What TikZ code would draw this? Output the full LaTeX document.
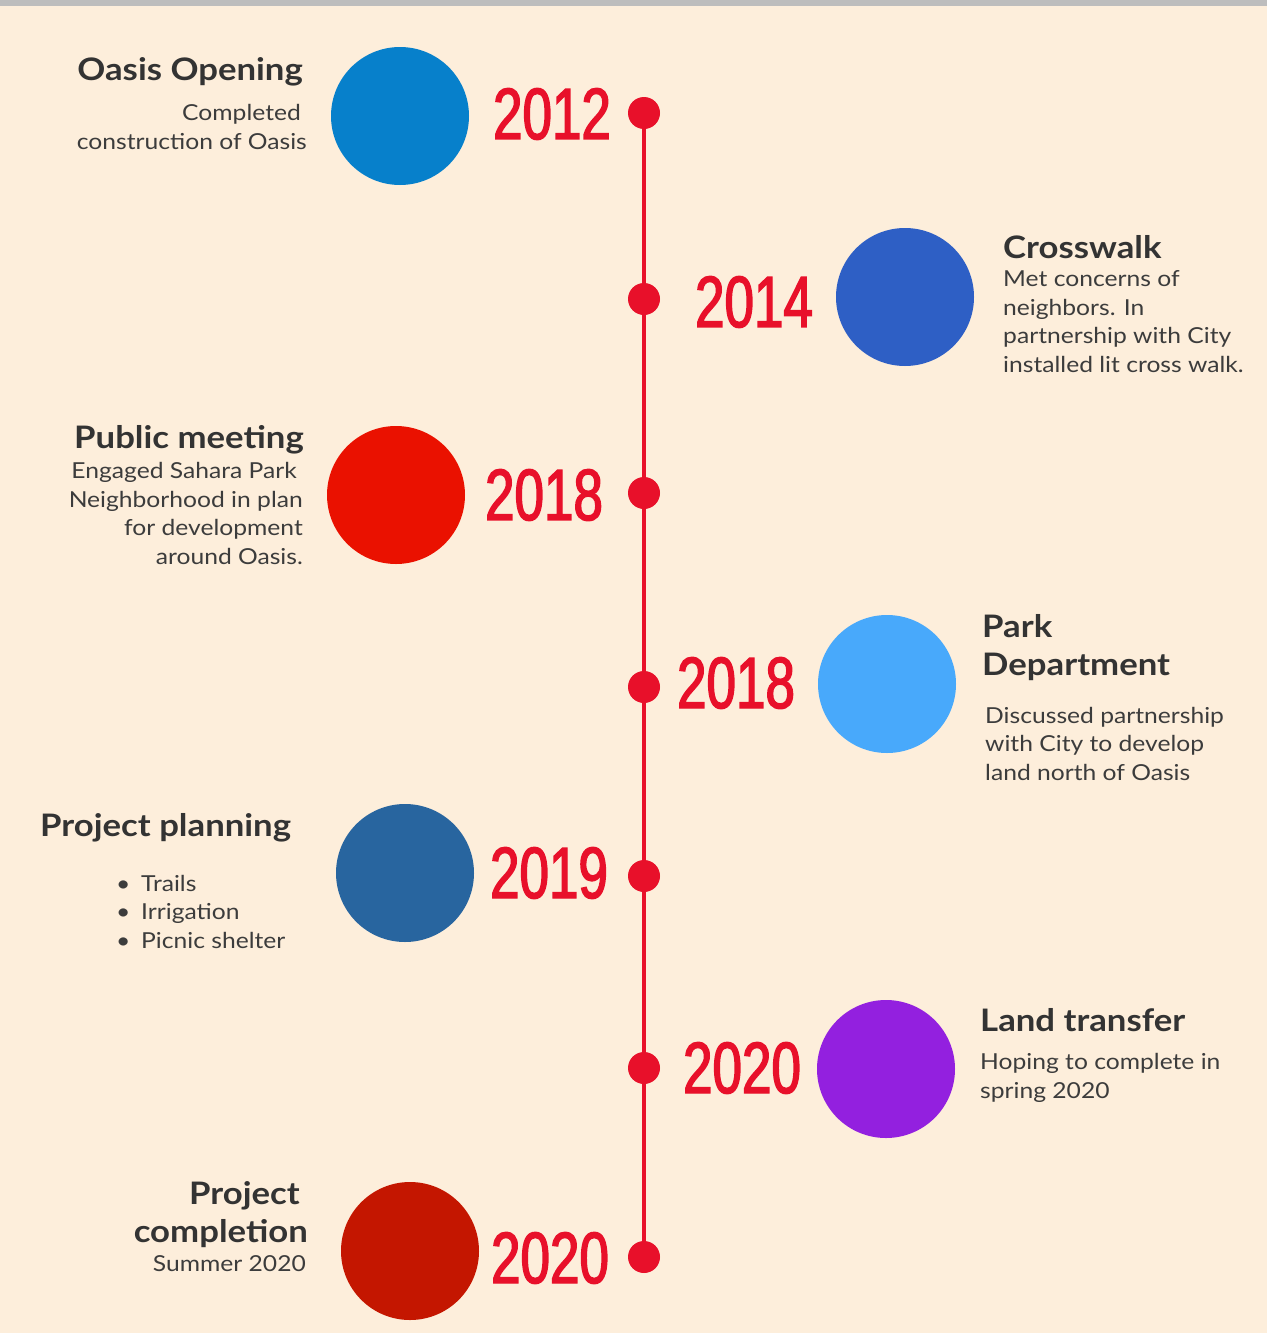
\documentclass[tikz,border=0pt]{standalone}
\usepackage{fontspec}
\usepackage{xcolor}
\usepackage{tikz}
\setmainfont[FakeStretch=1.12]{Lato}
\newfontfamily\yearfont[FakeStretch=0.73,FakeBold=2]{Liberation Sans}

\definecolor{bgCream}{HTML}{FDEEDB}
\definecolor{barGrey}{HTML}{BDBDBD}
\definecolor{lineRed}{HTML}{E8102A}
\definecolor{txtDark}{HTML}{333333}
\definecolor{txtBody}{HTML}{3C3C3C}
\definecolor{evBlue}{HTML}{0780CB}
\definecolor{evRoyal}{HTML}{2E5FC5}
\definecolor{evRed}{HTML}{EA1100}
\definecolor{evSky}{HTML}{48A9FB}
\definecolor{evSteel}{HTML}{28659F}
\definecolor{evViolet}{HTML}{9320DF}
\definecolor{evBrick}{HTML}{C41600}

\tikzset{
  event/.style={circle,fill=#1,minimum size=138,inner sep=0},
  tdot/.style={circle,fill=lineRed,minimum size=32,inner sep=0},
  year/.style={inner sep=0,text=lineRed,font=\yearfont\fontsize{72.6}{72.6}\selectfont},
  head/.style={inner sep=0,text=txtDark,font=\bfseries\fontsize{31}{38}\selectfont},
  body/.style={inner sep=0,text=txtBody,font=\fontsize{22}{28.5}\selectfont}
}

\begin{document}
\begin{tikzpicture}[x=1pt,y=1pt,yscale=-1,xscale=1]
\useasboundingbox (0,0) rectangle (1267,1333);
\fill [bgCream] (0,0) rectangle (1267,1333);
\fill [barGrey] (0,0) rectangle (1267,6);

% timeline
\draw (644,113) node (d12) [tdot] {};
\draw (644,299) node (d14) [tdot] {};
\draw (644,493) node (d18a) [tdot] {};
\draw (644,687) node (d18b) [tdot] {};
\draw (644,876) node (d19) [tdot] {};
\draw (644,1068) node (d20a) [tdot] {};
\draw (644,1257) node (d20b) [tdot] {};
\draw [lineRed,line width=4] (d12.center) -- (d20b.center);

% circles
\draw (400,116) node (c12) [event=evBlue] {};
\draw (905,297) node (c14) [event=evRoyal] {};
\draw (396,495) node (c18a) [event=evRed] {};
\draw (887,684) node (c18b) [event=evSky] {};
\draw (405,873) node (c19) [event=evSteel] {};
\draw (886,1069) node (c20a) [event=evViolet] {};
\draw (410,1251) node (c20b) [event=evBrick] {};

% years
\draw (552,114) node (y12) [year] {2012};
\draw (754,302) node (y14) [year] {2014};
\draw (544,495) node (y18a) [year] {2018};
\draw (736,683) node (y18b) [year] {2018};
\draw (549,873) node (y19) [year] {2019};
\draw (742,1068) node (y20a) [year] {2020};
\draw (550,1258) node (y20b) [year] {2020};

% left texts (base = last line)
\draw (303,80) node (h12) [head,anchor=base east] {Oasis Opening};
\draw (307,149) node (b12) [body,anchor=base east,align=right] {Completed\hspace*{6pt}\\construction of Oasis};
\draw (304,448) node (h18a) [head,anchor=base east] {Public meeting};
\draw (303,564) node (b18a) [body,anchor=base east,align=right] {Engaged Sahara Park\hspace*{6pt}\\Neighborhood in plan\hspace*{6pt}\\for development\hspace*{6pt}\\around Oasis.};
\draw (40,836) node (h19) [head,anchor=base west] {Project planning};
\draw (116,948) node (b19) [body,anchor=base west,align=left] {\makebox[25pt][l]{\textbullet}Trails\\\makebox[25pt][l]{\textbullet}Irrigation\\\makebox[25pt][l]{\textbullet}Picnic shelter};
\draw (308,1242) node (h20b) [head,anchor=base east,align=right] {Project\hspace*{8pt}\\completion};
\draw (306,1271) node (b20b) [body,anchor=base east] {Summer 2020};

% right texts
\draw (1003,258) node (h14) [head,anchor=base west] {Crosswalk};
\draw (1003,372) node (b14) [body,anchor=base west,align=left] {Met concerns of\\neighbors. In\\partnership with City\\installed lit cross walk.};
\draw (982,675) node (h18b) [head,anchor=base west,align=left] {Park\\Department};
\draw (985,780) node (b18b) [body,anchor=base west,align=left] {Discussed partnership\\with City to develop\\land north of Oasis};
\draw (980,1031) node (h20a) [head,anchor=base west] {Land transfer};
\draw (980,1098) node (b20a) [body,anchor=base west,align=left] {Hoping to complete in\\spring 2020};
\end{tikzpicture}
\end{document}
